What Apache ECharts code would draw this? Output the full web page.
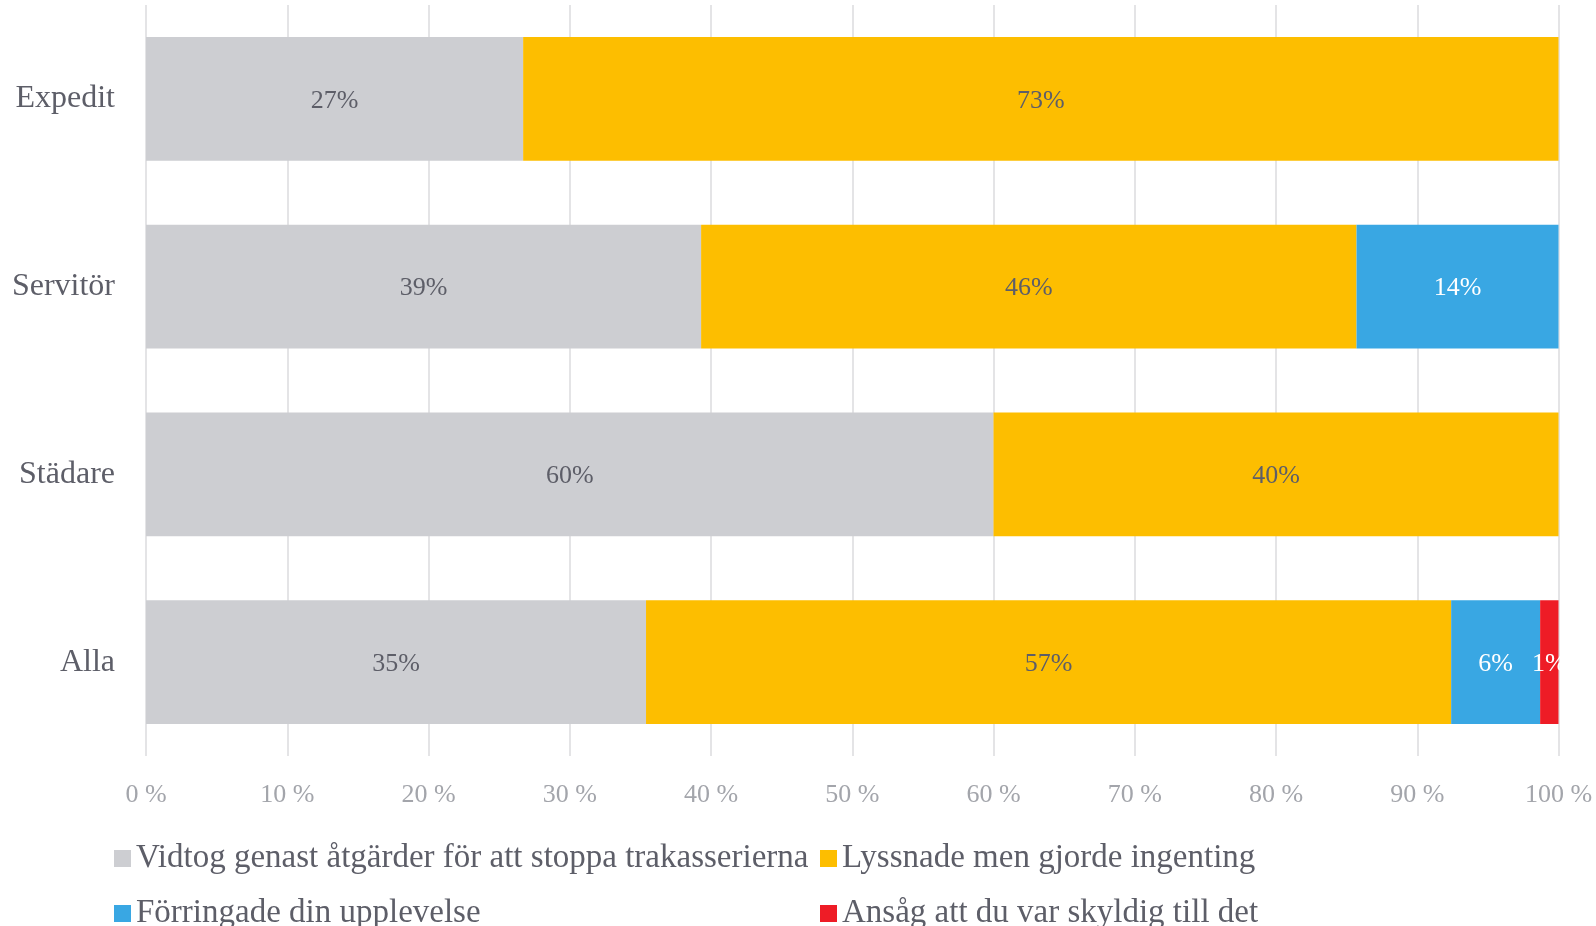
<!DOCTYPE html>
<html>
<head>
<meta charset="utf-8">
<script src="https://cdn.jsdelivr.net/npm/echarts@6/dist/echarts.min.js"></script>
<style>
  html, body { margin: 0; padding: 0; background: #fff; }
  #chart { width: 1596px; height: 926px; }
</style>
</head>
<body>
<div id="chart"></div>
<script>
// kategorier uppifrån och ner
const categories = ['Expedit', 'Servitör', 'Städare', 'Alla']
const seriesNames = [
    'Vidtog genast åtgärder för att stoppa trakasserierna',
    'Lyssnade men gjorde ingenting',
    'Förringade din upplevelse',
    'Ansåg att du var skyldig till det'
]
// andel i procent per kategori
const vidtog = [26.7, 39.3, 60.0, 35.4]
const lyssnade = [73.3, 46.4, 40.0, 57.0]
const forringade = [null, 14.3, null, 6.3]
const ansag = [null, null, null, 1.3]
const xTicks = [0, 10, 20, 30, 40, 50, 60, 70, 80, 90, 100]

const colors = ['#cdced2', '#fdbe00', '#39a7e3', '#ee1c26']
const labelColors = ['#5d5e68', '#5d5e68', '#ffffff', '#ffffff']
const font = '"Liberation Serif", "DejaVu Serif", serif'

const myChart = echarts.init(document.getElementById('chart'))

const makeSeries = (name, data, i) => ({
    name: name,
    type: 'bar',
    stack: 'total',
    data: data,
    barWidth: '66%',
    itemStyle: { color: colors[i] },
    label: {
        show: true,
        position: 'inside',
        offset: [0, 2],
        fontFamily: font,
        fontSize: 26,
        color: labelColors[i],
        formatter: p => (p.value == null ? '' : Math.round(p.value) + '%')
    },
    emphasis: { disabled: true }
})

const legendText = { fontFamily: font, fontSize: 33, color: '#5d5e68', lineHeight: 32 }

const option = {
    animation: false,
    color: colors,
    grid: { left: 146, right: 37.5, top: 5, bottom: 170, containLabel: false },
    xAxis: {
        type: 'value',
        min: xTicks[0],
        max: xTicks[xTicks.length - 1],
        interval: 10,
        axisLine: { show: false },
        axisTick: { show: false },
        splitLine: { lineStyle: { color: '#e4e4e6', width: 2 } },
        axisLabel: {
            margin: 26,
            fontFamily: font,
            fontSize: 26,
            color: '#a3a5ab',
            formatter: '{value} %'
        }
    },
    yAxis: {
        type: 'category',
        data: categories,
        inverse: true,
        axisLine: { show: false },
        axisTick: { show: false },
        axisLabel: {
            margin: 31,
            padding: [4, 0, 0, 0],
            fontFamily: font,
            fontSize: 32,
            color: '#5d5e68'
        }
    },
    legend: [
        {
            data: [seriesNames[0], seriesNames[2]],
            orient: 'vertical',
            left: 109,
            top: 837,
            height: 150,
            itemWidth: 17,
            itemHeight: 17,
            itemGap: 22,
            icon: 'rect',
            textStyle: legendText
        },
        {
            data: [seriesNames[1], seriesNames[3]],
            orient: 'vertical',
            left: 815,
            top: 837,
            height: 150,
            itemWidth: 17,
            itemHeight: 17,
            itemGap: 22,
            icon: 'rect',
            textStyle: legendText
        }
    ],
    series: [
        makeSeries(seriesNames[0], vidtog, 0),
        makeSeries(seriesNames[1], lyssnade, 1),
        makeSeries(seriesNames[2], forringade, 2),
        makeSeries(seriesNames[3], ansag, 3)
    ]
}

myChart.setOption(option)
</script>
</body>
</html>
